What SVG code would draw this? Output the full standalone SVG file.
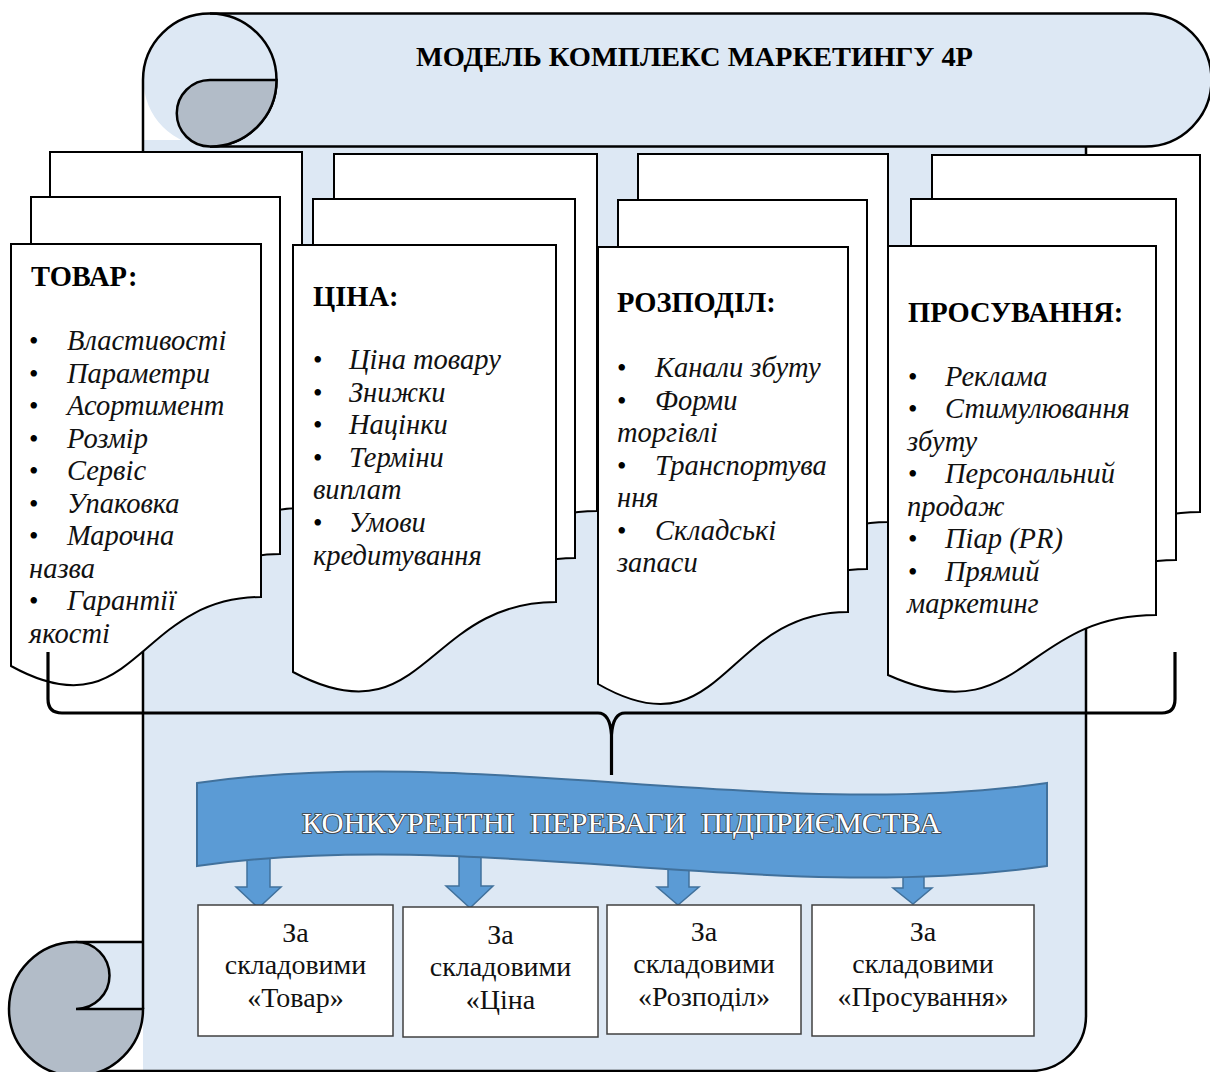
<svg xmlns="http://www.w3.org/2000/svg" width="1210" height="1072" viewBox="0 0 1210 1072">
<style>
.bg{fill:#dde8f4}
.ol{fill:none;stroke:#000;stroke-width:2.5}
.gr{fill:#b2bcc8;stroke:#000;stroke-width:2.5}
.pg{fill:#fff;stroke:#000;stroke-width:2}
.h{font-family:"Liberation Serif","Times New Roman",serif;font-weight:bold;font-size:28.5px;fill:#000}
.it{font-family:"Liberation Serif","Times New Roman",serif;font-style:italic;font-size:28.5px;fill:#111}
.bu{font-family:"Liberation Serif","Times New Roman",serif;font-size:27px;fill:#000}
.bx{fill:#fff;stroke:#404040;stroke-width:1.5}
.bt{font-family:"Liberation Serif","Times New Roman",serif;font-size:28px;text-anchor:middle;fill:#111}
.arr{fill:#5b9bd5;stroke:#41719c;stroke-width:1.5}
.brace{fill:none;stroke:#000;stroke-width:3.2;stroke-linejoin:round}
</style>

<g id="scroll">
  <path class="bg" d="M143,80 V1071 H1031 A55,55 0 0 0 1086,1016 V140 H143 Z"/>
  <path class="bg" d="M210,13.5 H1145 A66.5,66.5 0 0 1 1145,146.5 H210 A66.5,66.5 0 0 1 210,13.5 Z"/>
  <rect class="bg" x="76" y="942" width="67" height="67"/>
  <path class="ol" d="M143,1009 V80 A66.5,66.5 0 0 1 210,13.5 H1145 A66.5,66.5 0 0 1 1145,146.5 H210"/>
  <path class="ol" d="M210,13.5 A66.5,66.5 0 0 1 210,146.5"/>
  <path class="ol" d="M1086,146.5 V1016 A55,55 0 0 1 1031,1071 H90"/>
  <path class="gr" d="M210,80 H276.5 A66.5,66.5 0 0 1 210,146.5 A33.25,33.25 0 0 1 210,80 Z"/>
  <path class="ol" d="M76,942 H143"/>
  <path class="gr" d="M76,942 A67,67 0 1 0 143,1009 L76,1009 A33.5,33.5 0 0 0 76,942 Z"/>
  <text x="416" y="66" textLength="557" lengthAdjust="spacingAndGlyphs" class="h" style="font-size:27px">МОДЕЛЬ КОМПЛЕКС МАРКЕТИНГУ 4Р</text>
</g>

<g id="stack-tovar">
  <path class="pg" d="M50,152 H302 V508 C176,508 176,646 50,577 Z"/>
  <path class="pg" d="M31,197 H280 V554 C155.5,554 155.5,692 31,623 Z"/>
  <path class="pg" d="M11,244 H261 V597 C136,597 136,735 11,666 Z"/>
  <text class="h" x="31" y="286">ТОВАР:</text>
  <text class="bu" x="29" y="350">•</text><text class="it" x="67" y="350">Властивості</text>
  <text class="bu" x="29" y="383">•</text><text class="it" x="67" y="383">Параметри</text>
  <text class="bu" x="29" y="415">•</text><text class="it" x="67" y="415">Асортимент</text>
  <text class="bu" x="29" y="448">•</text><text class="it" x="67" y="448">Розмір</text>
  <text class="bu" x="29" y="480">•</text><text class="it" x="67" y="480">Сервіс</text>
  <text class="bu" x="29" y="513">•</text><text class="it" x="67" y="513">Упаковка</text>
  <text class="bu" x="29" y="545">•</text><text class="it" x="67" y="545">Марочна</text>
  <text class="it" x="29" y="578">назва</text>
  <text class="bu" x="29" y="610">•</text><text class="it" x="67" y="610">Гарантії</text>
  <text class="it" x="29" y="643">якості</text>
</g>

<g id="stack-tsina">
  <path class="pg" d="M334,154 H597 V511 C465.5,511 465.5,651 334,581 Z"/>
  <path class="pg" d="M313,199 H575 V558 C444,558 444,698 313,628 Z"/>
  <path class="pg" d="M293,245 H556 V602 C424.5,602 424.5,742 293,672 Z"/>
  <text class="h" x="313" y="306">ЦІНА:</text>
  <text class="bu" x="313" y="369">•</text><text class="it" x="349" y="369">Ціна товару</text>
  <text class="bu" x="313" y="402">•</text><text class="it" x="349" y="402">Знижки</text>
  <text class="bu" x="313" y="434">•</text><text class="it" x="349" y="434">Націнки</text>
  <text class="bu" x="313" y="467">•</text><text class="it" x="349" y="467">Терміни</text>
  <text class="it" x="313" y="499">виплат</text>
  <text class="bu" x="313" y="532">•</text><text class="it" x="349" y="532">Умови</text>
  <text class="it" x="313" y="565">кредитування</text>
</g>

<g id="stack-rozpodil">
  <path class="pg" d="M638,154 H888 V522 C763,522 763,666 638,594 Z"/>
  <path class="pg" d="M618,200 H867 V569 C742.5,569 742.5,713 618,641 Z"/>
  <path class="pg" d="M598,247 H848 V612 C723,612 723,756 598,684 Z"/>
  <text class="h" x="617" y="312">РОЗПОДІЛ:</text>
  <text class="bu" x="617" y="377">•</text><text class="it" x="655" y="377">Канали збуту</text>
  <text class="bu" x="617" y="410">•</text><text class="it" x="655" y="410">Форми</text>
  <text class="it" x="617" y="442">торгівлі</text>
  <text class="bu" x="617" y="475">•</text><text class="it" x="655" y="475">Транспортува</text>
  <text class="it" x="617" y="507">ння</text>
  <text class="bu" x="617" y="540">•</text><text class="it" x="655" y="540">Складські</text>
  <text class="it" x="617" y="572">запаси</text>
</g>

<g id="stack-prosuvannia">
  <path class="pg" d="M932,155 H1200 V512 C1066,512 1066,632 932,572 Z"/>
  <path class="pg" d="M911,199 H1176 V560 C1043.5,560 1043.5,680 911,620 Z"/>
  <path class="pg" d="M888,246 H1156 V615 C1022,615 1022,735 888,675 Z"/>
  <text class="h" x="908" y="322">ПРОСУВАННЯ:</text>
  <text class="bu" x="908" y="386">•</text><text class="it" x="945" y="386">Реклама</text>
  <text class="bu" x="908" y="418">•</text><text class="it" x="945" y="418">Стимулювання</text>
  <text class="it" x="907" y="451">збуту</text>
  <text class="bu" x="908" y="483">•</text><text class="it" x="945" y="483">Персональний</text>
  <text class="it" x="907" y="516">продаж</text>
  <text class="bu" x="908" y="548">•</text><text class="it" x="945" y="548">Піар (PR)</text>
  <text class="bu" x="908" y="581">•</text><text class="it" x="945" y="581">Прямий</text>
  <text class="it" x="907" y="613">маркетинг</text>
</g>

<g id="connectors">
  <path class="brace" d="M48,652 V699 Q48,713 62,713 H598 Q610,713 611.5,735 V775 M611.5,735 Q613,713 625,713 H1162 Q1175,713 1175,699 V652"/>
  <path class="arr" d="M247,850 H270 V887 H281 L258.5,908 L236,887 H247 Z"/>
  <path class="arr" d="M459,850 H481 V886 H493 L470,908 L446,886 H459 Z"/>
  <path class="arr" d="M668,860 H689 V887 H699 L678,905 L657,887 H668 Z"/>
  <path class="arr" d="M903,870 H924 V888 H932 L913,904 L893,888 H903 Z"/>
</g>

<g id="banner">
  <path fill="#5b9bd5" stroke="#41719c" stroke-width="2" d="M197,783 C480.3,743 763.7,823 1047,783 L1047,866 C763.7,906 480.3,826 197,866 Z"/>
  <text x="302" y="833" textLength="639" lengthAdjust="spacingAndGlyphs" style="font-family:'Liberation Serif','Times New Roman',serif;font-size:29px;fill:#fff;stroke:#3c3c3c;stroke-width:1.6;paint-order:stroke" xml:space="preserve">КОНКУРЕНТНІ  ПЕРЕВАГИ  ПІДПРИЄМСТВА</text>
</g>

<g id="box-tovar">
  <rect class="bx" x="198" y="905" width="195" height="131"/>
  <text class="bt" x="295.5" y="942">За</text>
  <text class="bt" x="295.5" y="974">складовими</text>
  <text class="bt" x="295.5" y="1007">«Товар»</text>
</g>
<g id="box-tsina">
  <rect class="bx" x="403" y="907" width="195" height="130"/>
  <text class="bt" x="500.5" y="944">За</text>
  <text class="bt" x="500.5" y="976">складовими</text>
  <text class="bt" x="500.5" y="1009">«Ціна</text>
</g>
<g id="box-rozpodil">
  <rect class="bx" x="607" y="905" width="194" height="129"/>
  <text class="bt" x="704" y="941">За</text>
  <text class="bt" x="704" y="973">складовими</text>
  <text class="bt" x="704" y="1006">«Розподіл»</text>
</g>
<g id="box-prosuvannia">
  <rect class="bx" x="812" y="905" width="222" height="131"/>
  <text class="bt" x="923" y="941">За</text>
  <text class="bt" x="923" y="973">складовими</text>
  <text class="bt" x="923" y="1006">«Просування»</text>
</g>
</svg>
